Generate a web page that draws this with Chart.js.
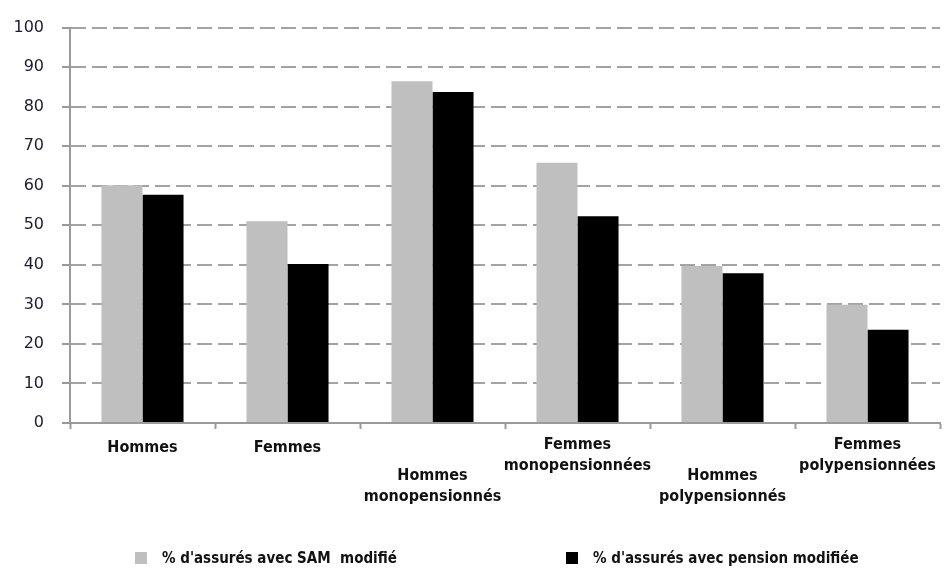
<!DOCTYPE html>
<html lang="fr">
<head>
    <meta charset="UTF-8">
    <title>Assurés avec SAM / pension modifiée</title>
    <script src="https://cdn.jsdelivr.net/npm/chart.js"></script>
    <style>
        body {
            margin: 0;
            background: #fff;
        }
        .wrap {
            position: relative;
            width: 950px;
            height: 568px;
        }
        #chart {
            position: absolute;
            left: 0;
            top: 0;
        }
        .legend-item {
            position: absolute;
            top: 549px;
            font-family: "DejaVu Sans Condensed", "DejaVu Sans", sans-serif;
            font-stretch: condensed;
            font-weight: bold;
            font-size: 15px;
            color: #111;
            white-space: pre;
            line-height: 18px;
        }
        .legend-item span.box {
            display: inline-block;
            width: 12px;
            height: 12px;
            vertical-align: -1px;
            margin-right: 15px;
        }
    </style>
</head>
<body>
<div class="wrap">
    <canvas id="chart" width="950" height="568"></canvas>
    <div class="legend-item" id="leg0" style="left:135px"></div>
    <div class="legend-item" id="leg1" style="left:566px"></div>
</div>

<script>
    // data
    const categories = [
        ['Hommes'],
        ['Femmes'],
        ['Hommes', 'monopensionnés'],
        ['Femmes', 'monopensionnées'],
        ['Hommes', 'polypensionnés'],
        ['Femmes', 'polypensionnées']
    ];
    const seriesNames = ["% d'assurés avec SAM  modifié", "% d'assurés avec pension modifiée"];
    const samModifie = [60.1, 51.0, 86.4, 65.8, 39.7, 29.9];
    const pensionModifiee = [57.7, 40.2, 83.7, 52.3, 37.9, 23.6];
    const yTicks = [0, 10, 20, 30, 40, 50, 60, 70, 80, 90, 100];

    const colors = ['#bfbfbf', '#000000'];
    const lowered = [false, false, true, false, true, false]; // excel staggered labels

    // draws the category labels under the axis, staggered like the original
    const xLabels = {
        id: 'xLabels',
        afterDraw(chart) {
            const ctx = chart.ctx;
            const xs = chart.scales.x;
            ctx.save();
            ctx.font = 'bold 16px "DejaVu Sans Condensed", "DejaVu Sans"';
            ctx.fillStyle = '#111';
            ctx.textAlign = 'center';
            ctx.textBaseline = 'middle';
            chart.data.labels.forEach((lines, i) => {
                const x = xs.getPixelForValue(i);
                let y = xs.top + (lowered[i] ? 53 : 22);
                if (lines.length === 1) y += 3;
                lines.forEach((line, j) => ctx.fillText(line, x, y + j * 21));
            });
            ctx.restore();
        }
    };

    const ctx = document.getElementById('chart').getContext('2d');
    const chart = new Chart(ctx, {
        type: 'bar',
        data: {
            labels: categories,
            datasets: [
                {
                    label: seriesNames[0],
                    data: samModifie,
                    backgroundColor: colors[0],
                    categoryPercentage: 0.566,
                    barPercentage: 1
                },
                {
                    label: seriesNames[1],
                    data: pensionModifiee,
                    backgroundColor: colors[1],
                    categoryPercentage: 0.566,
                    barPercentage: 1
                }
            ]
        },
        options: {
            responsive: false,
            animation: false,
            layout: {
                padding: { top: 23, right: 10, left: 0, bottom: 0 }
            },
            plugins: {
                legend: { display: false },
                tooltip: { enabled: false }
            },
            scales: {
                x: {
                    grid: {
                        drawOnChartArea: false,
                        drawTicks: true,
                        tickLength: 6,
                        tickColor: '#9a9a9a',
                        tickWidth: 2,
                        offset: true
                    },
                    border: { color: '#9a9a9a', width: 2 },
                    ticks: { display: false },
                    afterFit: s => { s.height = 145; }
                },
                y: {
                    min: 0,
                    max: 100,
                    afterBuildTicks: s => { s.ticks = yTicks.map(v => ({ value: v })); },
                    grid: {
                        color: '#a3a3a3',
                        lineWidth: 2,
                        tickLength: 8,
                        tickColor: '#9a9a9a',
                        tickWidth: 2,
                        tickBorderDash: []
                    },
                    border: { color: '#9a9a9a', width: 2, dash: [15, 6] },
                    ticks: {
                        padding: 18,
                        color: '#1c1c30',
                        font: { family: 'DejaVu Sans', size: 16 }
                    },
                    afterFit: s => { s.width = 70; }
                }
            }
        },
        plugins: [xLabels]
    });

    // legend in html, spaced like the original
    seriesNames.forEach((name, i) => {
        const el = document.getElementById('leg' + i);
        const box = document.createElement('span');
        box.className = 'box';
        box.style.background = colors[i];
        el.appendChild(box);
        el.appendChild(document.createTextNode(name));
    });
</script>
</body>
</html>
